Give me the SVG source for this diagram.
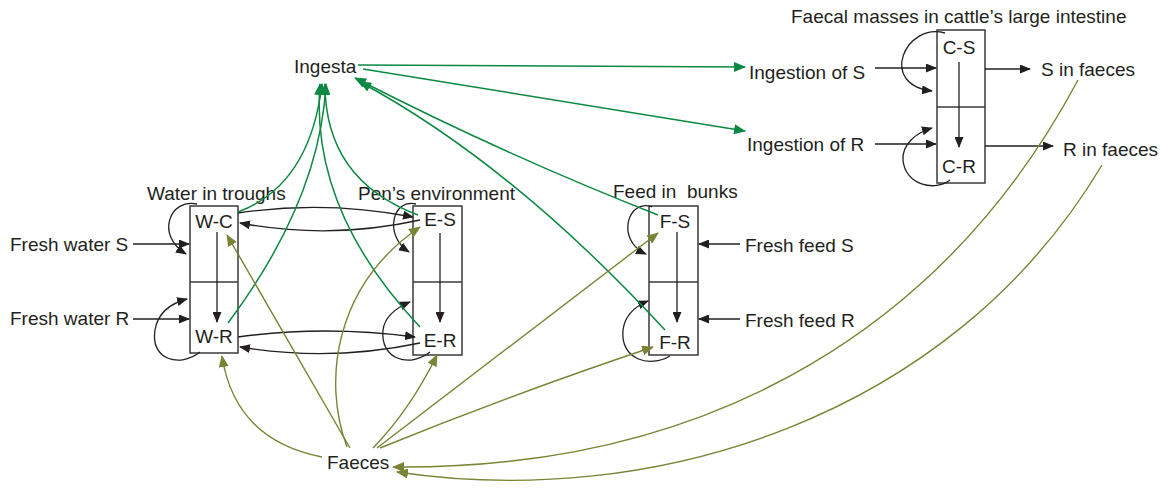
<svg xmlns="http://www.w3.org/2000/svg" width="1167" height="488" viewBox="0 0 1167 488">
<style>
text{font-family:"Liberation Sans",Arial,sans-serif;font-size:19px;fill:#231f20}
.box{fill:#fff;stroke:#3a3a3a;stroke-width:1.5}
.div{stroke:#3a3a3a;stroke-width:1.3}
.k{fill:none;stroke:#231f20;stroke-width:1.3;marker-end:url(#ak)}
.g{fill:none;stroke:#0b8842;stroke-width:1.5;marker-end:url(#ag)}
.o{fill:none;stroke:#7a8336;stroke-width:1.4;marker-end:url(#ao)}
</style>
<defs>
<marker id="ak" markerUnits="userSpaceOnUse" viewBox="0 0 11 9" refX="10" refY="4.5" markerWidth="11" markerHeight="9" orient="auto"><path d="M0,0 L11,4.5 L0,9 z" fill="#231f20"/></marker>
<marker id="ag" markerUnits="userSpaceOnUse" viewBox="0 0 12 10" refX="11" refY="5" markerWidth="12" markerHeight="10" orient="auto"><path d="M0,0 L12,5 L0,10 z" fill="#0b8842"/></marker>
<marker id="ao" markerUnits="userSpaceOnUse" viewBox="0 0 12 10" refX="11" refY="5" markerWidth="12" markerHeight="10" orient="auto"><path d="M0,0 L12,5 L0,10 z" fill="#7a8336"/></marker>
</defs>
<rect width="1167" height="488" fill="#fff"/>

<g id="node-W">
<rect class="box" x="190" y="206" width="48" height="147"/>
<line class="div" x1="190" y1="282" x2="238" y2="282"/>
<text x="214" y="228" text-anchor="middle">W-C</text>
<text x="214" y="343" text-anchor="middle">W-R</text>
<text x="147" y="200">Water in troughs</text>
</g>
<g id="node-E">
<rect class="box" x="413" y="206" width="49" height="149"/>
<line class="div" x1="413" y1="282" x2="462" y2="282"/>
<text x="440" y="226" text-anchor="middle">E-S</text>
<text x="440" y="347" text-anchor="middle">E-R</text>
<text x="358" y="200">Pen’s environment</text>
</g>
<g id="node-F">
<rect class="box" x="649" y="206" width="49" height="149"/>
<line class="div" x1="649" y1="282" x2="698" y2="282"/>
<text x="675" y="228" text-anchor="middle">F-S</text>
<text x="675" y="349" text-anchor="middle">F-R</text>
<text x="613" y="198" xml:space="preserve">Feed in  bunks</text>
</g>
<g id="node-C">
<rect class="box" x="937" y="30" width="48" height="153"/>
<line class="div" x1="937" y1="107" x2="985" y2="107"/>
<text x="959" y="54" text-anchor="middle">C-S</text>
<text x="959" y="173" text-anchor="middle">C-R</text>
<text x="791" y="23">Faecal masses in cattle’s large intestine</text>
</g>
<g id="node-ingesta"><text x="294" y="73">Ingesta</text></g>
<g id="node-faeces"><text x="327" y="469">Faeces</text></g>
<g id="node-fws"><text x="10" y="251">Fresh water S</text></g>
<g id="node-fwr"><text x="10" y="325">Fresh water R</text></g>
<g id="node-ffs"><text x="745" y="252">Fresh feed S</text></g>
<g id="node-ffr"><text x="745" y="327">Fresh feed R</text></g>
<g id="node-ings"><text x="749" y="79">Ingestion of S</text></g>
<g id="node-ingr"><text x="747" y="151">Ingestion of R</text></g>
<g id="node-sf"><text x="1041" y="76">S in faeces</text></g>
<g id="node-rf"><text x="1063" y="156">R in faeces</text></g>

<g id="connectors">
<!-- black: inputs -->
<path class="k" d="M133,244 H189"/>
<path class="k" d="M133,319 H189"/>
<path class="k" d="M740,244 H699"/>
<path class="k" d="M740,319 H699"/>
<path class="k" d="M875,68 H936"/>
<path class="k" d="M875,144 H936"/>
<path class="k" d="M985,69 H1030"/>
<path class="k" d="M985,146 H1053"/>
<!-- internal S to R -->
<path class="k" d="M217,232 V322"/>
<path class="k" d="M440,233 V322"/>
<path class="k" d="M677,232 V322"/>
<path class="k" d="M959,62 V147"/>
<!-- W <-> E -->
<path class="k" d="M238,213 Q325,200 413,217"/>
<path class="k" d="M420,220 Q330,240 240,223"/>
<path class="k" d="M238,337 Q325,325 415,337"/>
<path class="k" d="M420,343 Q330,362 240,347"/>
<!-- self loops -->
<path class="k" d="M197,204 C170,198 155,235 186,254"/>
<path class="k" d="M200,352 C180,368 150,360 155,330 C158,312 172,303 187,299"/>
<path class="k" d="M416,204 C393,198 383,235 409,252"/>
<path class="k" d="M430,352 C410,368 380,360 383,330 C385,315 398,307 410,302"/>
<path class="k" d="M652,207 C628,198 615,240 646,254"/>
<path class="k" d="M670,356 C650,368 620,360 623,330 C625,314 636,306 648,301"/>
<path class="k" d="M945,33 C905,22 878,85 932,91"/>
<path class="k" d="M950,180 C935,192 905,185 903,160 C902,145 915,133 932,128"/>
<!-- green -->
<path class="g" d="M238,212 Q310,185 322,84"/>
<path class="g" d="M228,323 Q320,200 326,84"/>
<path class="g" d="M420,327 Q310,210 320,84"/>
<path class="g" d="M418,215 Q325,180 325,84"/>
<path class="g" d="M658,215 Q505,155 355,78"/>
<path class="g" d="M665,330 Q512,164 360,82"/>
<path class="g" d="M358,65 L745,67"/>
<path class="g" d="M363,69 L745,131"/>
<!-- olive -->
<path class="o" d="M322,457 Q235,440 222,356"/>
<path class="o" d="M350,448 L227,235"/>
<path class="o" d="M347,447 C322,380 335,285 420,227"/>
<path class="o" d="M373,448 Q410,410 437,355"/>
<path class="o" d="M377,448 L658,233"/>
<path class="o" d="M380,448 Q510,395 653,347"/>
<path class="o" d="M1078,80 C950,320 720,470 393,467"/>
<path class="o" d="M1102,165 C950,420 650,510 397,472"/>
</g>
</svg>
